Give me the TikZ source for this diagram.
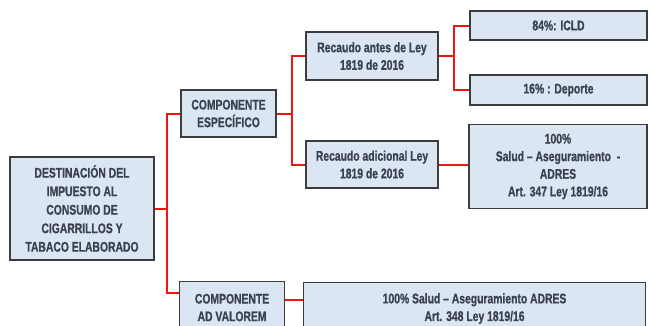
\documentclass[tikz,border=0pt]{standalone}
\usepackage{fontspec}
\setmainfont{Liberation Sans}[FakeStretch=0.74,BoldFeatures={FakeBold=0.8}]
\usetikzlibrary{calc}
\definecolor{boxfill}{RGB}{220,230,242}
\definecolor{boxline}{RGB}{60,60,64}
\definecolor{txt}{RGB}{58,66,82}
\definecolor{conn}{RGB}{240,20,20}
\begin{document}
\begin{tikzpicture}[x=1pt,y=-1pt,
  box/.style={draw=boxline,line width=1.1pt,fill=boxfill,text=txt,
    font=\fontsize{14}{17.6}\selectfont\bfseries,align=center,inner sep=2pt},
  conline/.style={draw=conn,line width=2pt}]
\useasboundingbox (0,0) rectangle (650,325);
\clip (0,0) rectangle (650,325);
\node[box,minimum width=144pt,minimum height=103pt,font=\fontsize{14}{18.5}\selectfont\bfseries] (root) at (82,208.5)
  {DESTINACIÓN DEL\\IMPUESTO AL\\CONSUMO DE\\CIGARRILLOS Y\\TABACO ELABORADO};
\node[box,minimum width=95pt,minimum height=47pt] (ce) at (228.5,113.5)
  {COMPONENTE\\ESPECÍFICO};
\node[box,minimum width=105pt,minimum height=52pt,anchor=north west] (cav) at (179,281)
  {COMPONENTE\\AD VALOREM};
\node[box,minimum width=132pt,minimum height=48pt] (ra) at (372,56)
  {Recaudo antes de Ley\\1819 de 2016};
\node[box,minimum width=132pt,minimum height=47pt] (rad) at (372,164.5)
  {Recaudo adicional Ley\\1819 de 2016};
\node[box,minimum width=177pt,minimum height=29pt] (icld) at (558.5,25.5)
  {84\%: ICLD};
\node[box,minimum width=177pt,minimum height=30pt] (dep) at (558.5,90)
  {16\% : Deporte};
\node[box,minimum width=178pt,minimum height=84pt] (adres) at (558,166.5)
  {100\%\\Salud -- Aseguramiento\ \ -\\ADRES\\Art. 347 Ley 1819/16};
\node[box,minimum width=342pt,minimum height=52pt,anchor=north west] (bot) at (303,282)
  {100\% Salud -- Aseguramiento ADRES\\Art. 348 Ley 1819/16};
% junctions
\coordinate (j1) at ($(root.east)+(12,0)$);
\coordinate (j2) at ($(ce.east)+(15,0)$);
\coordinate (j3) at ($(ra.east)+(15,0)$);
\coordinate (cavin) at ($(cav.north west)+(0,12)$);
\coordinate (cavout) at ($(cav.north east)+(0,19)$);
\draw[conline] (root.east) -- (j1) |- (ce.west);
\draw[conline] (j1) |- (cavin);
\draw[conline] (ce.east) -- (j2) |- (ra.west);
\draw[conline] (j2) |- (rad.west);
\draw[conline] (ra.east) -- (j3) |- (icld.west);
\draw[conline] (j3) |- (dep.west);
\draw[conline] (rad.east) -- (adres.west |- rad.east);
\draw[conline] (cavout) -- (bot.west |- cavout);
\end{tikzpicture}
\end{document}
